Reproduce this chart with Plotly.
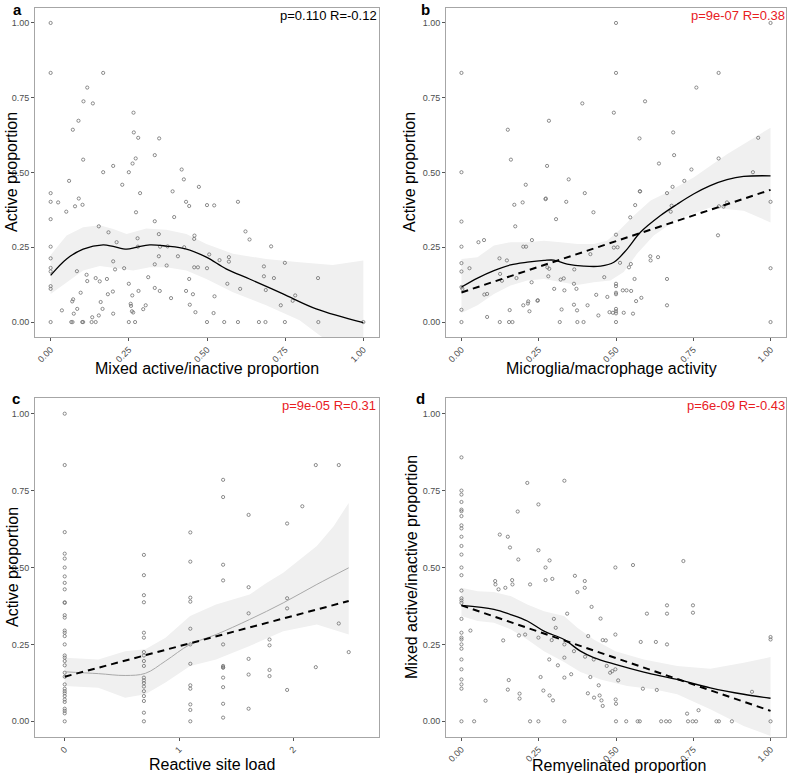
import plotly.graph_objects as go
from plotly.subplots import make_subplots

# ---- panel a: mixed active/inactive vs active proportion
a_x = [0, 0, 0.168, 0.117, 0.105, 0.135, 0.089, 0.071, 0.265, 0.266, 0.28, 0.347, 0.333, 0.104, 0.272,
       0.262, 0.2, 0.168, 0.25, 0.419, 0.426, 0.059, 0.229, 0.474, 0, 0.286, 0.39, 0.09,
       0, 0.024, 0.078, 0.102, 0.05, 0, 0.273, 0.433, 0.443, 0.5, 0.523, 0.599, 0.395, 0.333, 0.154,
       0.185, 0.346, 0.623, 0.636, 0.459, 0.46, 0.278, 0, 0.279, 0.35, 0.374, 0.427, 0.705, 0.211,
       0, 0.2, 0.346, 0.407, 0.507, 0.54, 0.57, 0.57, 0, 0, 0.206, 0.235, 0.371, 0.333, 0.459, 0.471,
       0.5, 0.682, 0.749, 0.084, 0.115, 0.682, 0.714, 0.855, 0.312, 0.443, 0.144, 0.18, 0.157, 0.117,
       0.25, 0.565, 0, 0, 0.333, 0.606, 0.349, 0.281, 0.688, 0.433, 0.096, 0.183, 0.199, 0.455, 0.261,
       0.782, 0.774, 0.16, 0.069, 0.072, 0.524, 0.256, 0.257, 0.385, 0.304, 0.445, 0.736, 0.036, 0.085,
       0.166, 0.296, 0.26, 0.264, 0.074, 0.154, 0.2, 0.133, 0.463, 0.521,
       0, 0.066, 0.07, 0.101, 0.104, 0.131, 0.144, 0.25, 0.27, 0.5, 0.555, 0.599, 0.666, 0.687, 0.749,
       0.856, 1.0]
a_y = [1.0, 0.833, 0.833, 0.784, 0.738, 0.731, 0.673, 0.643, 0.70, 0.634, 0.616, 0.614, 0.558, 0.543, 0.547,
       0.53, 0.522, 0.501, 0.501, 0.51, 0.477, 0.472, 0.459, 0.452, 0.431, 0.431, 0.437, 0.413,
       0.402, 0.40, 0.387, 0.392, 0.369, 0.344, 0.367, 0.402, 0.388, 0.391, 0.39, 0.402, 0.351, 0.337, 0.32,
       0.30, 0.294, 0.303, 0.276, 0.278, 0.289, 0.28, 0.252, 0.252, 0.252, 0.253, 0.25, 0.253, 0.267,
       0.213, 0.203, 0.22, 0.22, 0.226, 0.207, 0.217, 0.202, 0.181, 0.169, 0.176, 0.18, 0.189, 0.193, 0.183, 0.183,
       0.18, 0.186, 0.198, 0.17, 0.158, 0.153, 0.147, 0.147, 0.15, 0.144, 0.147, 0.144, 0.136, 0.137,
       0.128, 0.128, 0.12, 0.111, 0.114, 0.111, 0.104, 0.104, 0.107, 0.104, 0.098, 0.093, 0.102, 0.093, 0.089,
       0.089, 0.071, 0.067, 0.069, 0.076, 0.086, 0.061, 0.054, 0.08, 0.056, 0.058, 0.056, 0.039, 0.044,
       0.044, 0.043, 0.036, 0.032, 0.028, 0.022, 0.028, 0.016, 0.033, 0.03,
       0, 0, 0, 0, 0, 0, 0, 0, 0, 0, 0, 0, 0, 0, 0,
       0, 0]
a_fit_x = [0, 0.051, 0.104, 0.168, 0.2, 0.243, 0.274, 0.317, 0.37, 0.434, 0.498, 0.561, 0.636, 0.743, 0.849, 1.0]
a_fit_y = [0.156, 0.211, 0.244, 0.258, 0.253, 0.244, 0.25, 0.258, 0.254, 0.244, 0.217, 0.178, 0.144, 0.094, 0.044, -0.002]
a_up_x = [0, 0.051, 0.104, 0.157, 0.2, 0.243, 0.306, 0.37, 0.434, 0.498, 0.583, 0.689, 0.796, 0.902, 1.0]
a_up_y = [0.224, 0.289, 0.317, 0.324, 0.311, 0.294, 0.313, 0.309, 0.294, 0.261, 0.228, 0.211, 0.2, 0.191, 0.206]
a_lo_x = [0, 0.051, 0.104, 0.157, 0.211, 0.264, 0.317, 0.37, 0.434, 0.498, 0.583, 0.689, 0.796, 0.86, 1.0]
a_lo_y = [0.094, 0.133, 0.172, 0.187, 0.18, 0.172, 0.183, 0.183, 0.172, 0.144, 0.1, 0.056, 0.006, -0.044, -0.144]

# ---- panel b: microglia/macrophage activity vs active proportion
b_x = [0, 0, 0.5, 1.0, 0.5, 0.832, 0.76, 0.391, 0.594, 0.493, 0.283, 0.15, 0.576, 0.96, 0.685, 0.16,
       0.688, 0.832, 0.639, 0.277, 0.744, 0.943, 0.347, 0.721, 0.208, 0.683, 0.399, 0.578, 0.665, 0.273,
       0, 0, 0, 0, 0, 0.003, 0, 0, 0.026, 0.055, 0.073, 0.074, 0.083, 0.083, 0.123, 0.125, 0.124, 0.131,
       0.147, 0.154, 0.156, 0.165, 0.171, 0.174, 0.178, 0.198, 0.2, 0.209, 0.2, 0.216, 0.215, 0.22, 0.228,
       0.227, 0.247, 0.246, 0.272, 0.278, 0.281, 0.284, 0.3, 0.306, 0.318, 0.321, 0.324, 0.331, 0.333,
       0.339, 0.364, 0.364, 0.365, 0.372, 0.374, 0.375, 0.395, 0.408, 0.417, 0.427, 0.436, 0.443, 0.462,
       0.472, 0.479, 0.49, 0.493, 0.5, 0.5, 0.5, 0.5, 0.5, 0.5, 0.5, 0.5, 0.5, 0.505, 0.513, 0.522, 0.525,
       0.534, 0.542, 0.546, 0.548, 0.549, 0.555, 0.56, 0.562, 0.565, 0.577, 0.582, 0.611, 0.612, 0.636,
       0.665, 0.665, 0.677, 0.68, 0.83, 0.833, 0.848, 0.859, 1.0, 1.0, 1.0]
b_y = [0.833, 0.501, 1.0, 1.0, 0.833, 0.833, 0.784, 0.731, 0.738, 0.70, 0.673, 0.643, 0.614, 0.616, 0.634, 0.543,
       0.558, 0.547, 0.53, 0.522, 0.51, 0.501, 0.477, 0.472, 0.459, 0.452, 0.431, 0.437, 0.431, 0.413,
       0.336, 0.252, 0.197, 0.169, 0.117, 0.111, 0.041, 0, 0.18, 0.267, 0.274, 0.092, 0.094, 0.017, 0.213,
       0.161, 0, 0.138, 0.206, 0, 0.04, 0, 0.392, 0.32, 0.147, 0.40, 0.252, 0.252, 0.056, 0.069, 0.062,
       0.036, 0.274, 0.133, 0.073, 0.071, 0.411, 0.183, 0.153, 0.178, 0.111, 0.344, 0, 0.142, 0.042, 0.146,
       0.106, 0.402, 0.128, 0.058, 0.176, 0.111, 0.039, 0, 0, 0.056, 0.227, 0.367, 0.091, 0.022, 0.15,
       0.084, 0.033, 0.031, 0.249, 0.292, 0.128, 0.12, 0.098, 0.093, 0.044, 0.036, 0.029, 0, 0.25, 0.198,
       0.106, 0.031, 0.106, 0.183, 0.35, 0.194, 0.104, 0.028, 0.144, 0.391, 0.07, 0.437, 0.081, 0.22,
       0.206, 0.217, 0.144, 0.056, 0.369, 0.389, 0.29, 0.387, 0.386, 0.40, 0.402, 0.18, 0]
b_fit_x = [0, 0.052, 0.105, 0.159, 0.213, 0.267, 0.299, 0.342, 0.396, 0.45, 0.493, 0.536, 0.579, 0.644,
           0.698, 0.751, 0.805, 0.859, 0.913, 1.0]
b_fit_y = [0.117, 0.147, 0.172, 0.191, 0.2, 0.206, 0.207, 0.194, 0.187, 0.187, 0.2, 0.244, 0.3, 0.356,
           0.394, 0.428, 0.456, 0.476, 0.487, 0.489]
b_up_x = [0, 0.052, 0.105, 0.159, 0.213, 0.267, 0.321, 0.375, 0.428, 0.471, 0.515, 0.558, 0.612, 0.665,
          0.751, 0.859, 1.0]
b_up_y = [0.211, 0.217, 0.256, 0.267, 0.267, 0.272, 0.267, 0.261, 0.261, 0.272, 0.311, 0.356, 0.406, 0.433,
          0.483, 0.561, 0.65]
b_lo_x = [0, 0.052, 0.105, 0.159, 0.213, 0.267, 0.321, 0.375, 0.428, 0.482, 0.525, 0.568, 0.622, 0.698,
          0.805, 0.913, 1.0]
b_lo_y = [0.03, 0.056, 0.094, 0.122, 0.139, 0.144, 0.133, 0.124, 0.133, 0.139, 0.167, 0.228, 0.289, 0.344,
          0.383, 0.372, 0.333]
b_lin_x = [0, 1]
b_lin_y = [0.099, 0.442]

# ---- panel c: reactive site load vs active proportion
c_x = ([0] * 34 + [0.693] * 19 + [1.099] * 12 + [1.386] * 12 + [1.609] * 6 + [1.792] * 4 + [1.946] * 4
       + [2.079, 2.197, 2.197, 2.398, 2.398, 2.485])
c_y = ([1.0, 0.833, 0.615, 0.545, 0.529, 0.5, 0.471, 0.45, 0.429, 0.387, 0.385, 0.345, 0.337, 0.295, 0.288,
        0.277, 0.25, 0.214, 0.207, 0.196, 0.182, 0.158, 0.145, 0.106, 0.098, 0.091, 0.082, 0.071, 0.063,
        0.041, 0.034, 0.026, 0.0, 0.12]
       + [0.541, 0.475, 0.41, 0.387, 0.288, 0.272, 0.225, 0.214, 0.196, 0.18, 0.142, 0.133, 0.124, 0.113,
          0.098, 0.082, 0.066, 0.028, 0.0]
       + [0.614, 0.519, 0.402, 0.389, 0.301, 0.25, 0.187, 0.117, 0.106, 0.055, 0.037, 0.0]
       + [0.785, 0.729, 0.509, 0.458, 0.25, 0.18, 0.174, 0.142, 0.111, 0.057, 0.012, 0.176]
       + [0.671, 0.436, 0.351, 0.203, 0.152, 0.041]
       + [0.266, 0.247, 0.167, 0.147]
       + [0.643, 0.40, 0.367, 0.102]
       + [0.699, 0.833, 0.176, 0.833, 0.318, 0.225])
c_fit_x = [0, 0.294, 0.529, 0.706, 0.882, 1.097, 1.324, 1.618, 1.912, 2.206, 2.485]
c_fit_y = [0.161, 0.155, 0.149, 0.156, 0.196, 0.25, 0.282, 0.331, 0.385, 0.445, 0.499]
c_up_x = [0, 0.294, 0.529, 0.706, 0.882, 1.097, 1.324, 1.618, 1.765, 1.912, 2.206, 2.353, 2.485]
c_up_y = [0.207, 0.201, 0.228, 0.234, 0.272, 0.342, 0.38, 0.412, 0.45, 0.483, 0.57, 0.634, 0.71]
c_lo_x = [0, 0.294, 0.529, 0.706, 0.882, 1.097, 1.324, 1.618, 1.912, 2.206, 2.485]
c_lo_y = [0.115, 0.109, 0.077, 0.088, 0.126, 0.18, 0.201, 0.245, 0.293, 0.315, 0.282]
c_lin_x = [0, 2.485]
c_lin_y = [0.145, 0.391]

# ---- panel d: remyelinated vs mixed active/inactive proportion
d_x = ([0] * 30
       + [0.213, 0.333, 0.249, 0.182, 0.124, 0.15, 0.157, 0.184, 0.249, 0.285, 0.272, 0.498, 0.555, 0.718,
          0.367, 0.399, 0.272, 0.294, 0.109, 0.164,
          0.029, 0.041, 0.078, 0.11, 0.12, 0.142, 0.165, 0.222, 0.135, 0.153, 0.15, 0.186, 0.188, 0.188,
          0.206, 0.222, 0.249, 0.249, 0.256, 0.265, 0.284, 0.285, 0.292, 0.296, 0.299, 0.305, 0.312,
          0.333, 0.333, 0.333, 0.333, 0.342, 0.355, 0.364, 0.375, 0.399, 0.4, 0.409, 0.41, 0.417, 0.421,
          0.428, 0.429, 0.444, 0.447, 0.45, 0.453, 0.457, 0.457, 0.467, 0.47, 0.481, 0.488, 0.498, 0.498,
          0.499, 0.5, 0.5, 0.507, 0.533, 0.57, 0.577, 0.58, 0.587, 0.6, 0.629, 0.632, 0.646, 0.662, 0.674,
          0.665, 0.665, 0.665, 0.73, 0.733, 0.748, 0.759, 0.749, 0.749, 0.767, 0.825, 0.833, 0.875, 0.94,
          1.0, 1.0, 1.0])
d_y = ([0.858, 0.75, 0.737, 0.713, 0.688, 0.683, 0.667, 0.637, 0.627, 0.6, 0.57, 0.542, 0.5, 0.475, 0.425,
        0.393, 0.385, 0.333, 0.288, 0.272, 0.266, 0.25, 0.236, 0.201, 0.169, 0.136, 0.12, 0.106, 0.0, 0.4]
       + [0.775, 0.782, 0.705, 0.682, 0.607, 0.6, 0.565, 0.526, 0.556, 0.523, 0.5, 0.5, 0.508, 0.521,
          0.473, 0.456, 0.459, 0.463, 0.456, 0.459,
          0.295, 0.0, 0.067, 0.445, 0.429, 0.434, 0.445, 0.445, 0.263, 0.134, 0.103, 0.279, 0.09, 0.074,
          0.282, 0.0, 0.0, 0.272, 0.144, 0.1, 0.201, 0.084, 0.264, 0.068, 0.333, 0.304, 0.182,
          0.25, 0.207, 0.142, 0.0, 0.35, 0.153, 0.228, 0.42, 0.434, 0.21, 0.091, 0.277, 0.144, 0.372,
          0.201, 0.077, 0.117, 0.084, 0.334, 0.068, 0.05, 0.264, 0.263, 0.18, 0.158, 0.163, 0.282, 0.169,
          0.071, 0.057, 0.0, 0.133, 0.0, 0.0, 0.0, 0.258, 0.106, 0.35, 0.258, 0.102, 0.0, 0.0, 0.0,
          0.377, 0.35, 0.25, 0.025, 0.0, 0.0, 0.0, 0.377, 0.353, 0.036, 0.0, 0.0, 0.0, 0.096,
          0.274, 0.266, 0.0])
d_fit_x = [0, 0.105, 0.159, 0.213, 0.267, 0.332, 0.385, 0.428, 0.498, 0.59, 0.698, 0.805, 0.913, 1.0]
d_fit_y = [0.377, 0.364, 0.347, 0.326, 0.293, 0.266, 0.228, 0.207, 0.185, 0.16, 0.136, 0.109, 0.088, 0.075]
d_up_x = [0, 0.052, 0.105, 0.159, 0.213, 0.267, 0.332, 0.375, 0.428, 0.498, 0.59, 0.698, 0.805, 0.913, 1.0]
d_up_y = [0.434, 0.423, 0.42, 0.407, 0.38, 0.358, 0.342, 0.304, 0.266, 0.228, 0.201, 0.18, 0.171, 0.19, 0.209]
d_lo_x = [0, 0.052, 0.105, 0.159, 0.213, 0.267, 0.332, 0.385, 0.45, 0.536, 0.622, 0.698, 0.805, 0.913, 1.0]
d_lo_y = [0.342, 0.326, 0.32, 0.299, 0.266, 0.228, 0.193, 0.16, 0.136, 0.115, 0.104, 0.088, 0.039, -0.015, -0.048]
d_lin_x = [0, 1]
d_lin_y = [0.377, 0.034]

y_ticks = [0, 0.25, 0.5, 0.75, 1.0]
y_labels = ["0.00", "0.25", "0.50", "0.75", "1.00"]
c_ticks = [0, 1, 2]

FONT = "Liberation Sans, Arial, sans-serif"
RIBBON = "#f0f0f0"
PT = dict(symbol="circle-open", size=3.2, color="#707070", line=dict(width=0.8))

fig = make_subplots(rows=2, cols=2)

panels = [
    (1, 1, a_x, a_y, a_fit_x, a_fit_y, a_up_x, a_up_y, a_lo_x, a_lo_y, None, None, "black"),
    (1, 2, b_x, b_y, b_fit_x, b_fit_y, b_up_x, b_up_y, b_lo_x, b_lo_y, b_lin_x, b_lin_y, "black"),
    (2, 1, c_x, c_y, c_fit_x, c_fit_y, c_up_x, c_up_y, c_lo_x, c_lo_y, c_lin_x, c_lin_y, "#a8a8a8"),
    (2, 2, d_x, d_y, d_fit_x, d_fit_y, d_up_x, d_up_y, d_lo_x, d_lo_y, d_lin_x, d_lin_y, "black"),
]

for r, c, px, py, fx, fy, ux, uy, lx, ly, linx, liny, fitcol in panels:
    fig.add_trace(go.Scatter(x=ux + lx[::-1], y=uy + ly[::-1], fill="toself", fillcolor=RIBBON,
                             line=dict(width=0), mode="lines", hoverinfo="skip"), row=r, col=c)
    fig.add_trace(go.Scatter(x=px, y=py, mode="markers", marker=PT), row=r, col=c)
    fig.add_trace(go.Scatter(x=fx, y=fy, mode="lines", line=dict(color=fitcol, width=1.3 if fitcol == "black" else 1,
                                                              shape="spline")), row=r, col=c)
    if linx is not None:
        fig.add_trace(go.Scatter(x=linx, y=liny, mode="lines",
                                 line=dict(color="black", width=2, dash="7px,5px")), row=r, col=c)

xdom = {1: [35 / 787, 379 / 787], 2: [446 / 787, 786 / 787]}
ydom = {1: [1 - 337 / 773, 1 - 8 / 773], 2: [1 - 736.7 / 773, 1 - 398.3 / 773]}

axis_common = dict(showgrid=False, zeroline=False, showline=True, linecolor="#a6a6a6", linewidth=1,
                   mirror=True, ticks="outside", ticklen=3, tickcolor="#555555", tickwidth=0.8,
                   tickfont=dict(family=FONT, size=9, color="#4d4d4d"), automargin=False)

for i, (r, c) in enumerate([(1, 1), (1, 2), (2, 1), (2, 2)], start=1):
    xr = [-0.26, 2.75] if i == 3 else [-0.05, 1.05]
    if i == 3:
        xt = dict(tickvals=c_ticks, ticktext=[str(t) for t in c_ticks])
    else:
        xt = dict(tickvals=y_ticks, ticktext=y_labels)
    fig.update_xaxes(domain=xdom[c], range=xr, tickangle=-45, **xt, **axis_common, row=r, col=c)
    fig.update_yaxes(domain=ydom[r], range=[-0.05, 1.05], tickvals=y_ticks, ticktext=y_labels,
                     **axis_common, row=r, col=c)

ann = []
# panel letters
for txt, x, y in [("a", 17, 0), ("b", 425, 0), ("c", 16, 389), ("d", 420, 389)]:
    ann.append(dict(text=f"<b>{txt}</b>", x=x / 787, y=1 - y / 773, xref="paper", yref="paper",
                    showarrow=False, font=dict(family=FONT, size=15, color="black"),
                    xanchor="center", yanchor="top", borderpad=0))
# statistics
for txt, col, x, y in [("p=0.110 R=-0.12", "black", 379, 15), ("p=9e-07 R=0.38", "#e8201f", 786.5, 15),
                       ("p=9e-05 R=0.31", "#e8201f", 378, 405), ("p=6e-09 R=-0.43", "#e8201f", 786.5, 405)]:
    ann.append(dict(text=txt, x=x / 787, y=1 - y / 773, xref="paper", yref="paper", showarrow=False,
                    font=dict(family=FONT, size=13, color=col), xanchor="right", yanchor="middle"))
# x titles
for txt, x, y in [("Mixed active/inactive proportion", 207, 368), ("Microglia/macrophage activity", 611, 369),
                  ("Reactive site load", 212, 764), ("Remyelinated proportion", 619, 765)]:
    ann.append(dict(text=txt, x=x / 787, y=1 - y / 773, xref="paper", yref="paper", showarrow=False,
                    font=dict(family=FONT, size=16, color="black"), xanchor="center", yanchor="middle"))
# y titles
for txt, x, y in [("Active proportion", 12, 172), ("Active proportion", 410, 172),
                  ("Active proportion", 12, 567), ("Mixed active/inactive proportion", 411, 567)]:
    ann.append(dict(text=txt, x=x / 787, y=1 - y / 773, xref="paper", yref="paper", showarrow=False,
                    textangle=-90, font=dict(family=FONT, size=16, color="black"),
                    xanchor="center", yanchor="middle"))

fig.update_layout(width=787, height=773, margin=dict(l=0, r=0, t=0, b=0), showlegend=False,
                  plot_bgcolor="white", paper_bgcolor="white", annotations=ann,
                  font=dict(family=FONT))

# page body has a default 8px margin; remove it so the figure fills the window
fig.write_html("out.html", config={"displayModeBar": False},
               post_script="document.body.style.margin='0';document.body.style.overflow='hidden';")
